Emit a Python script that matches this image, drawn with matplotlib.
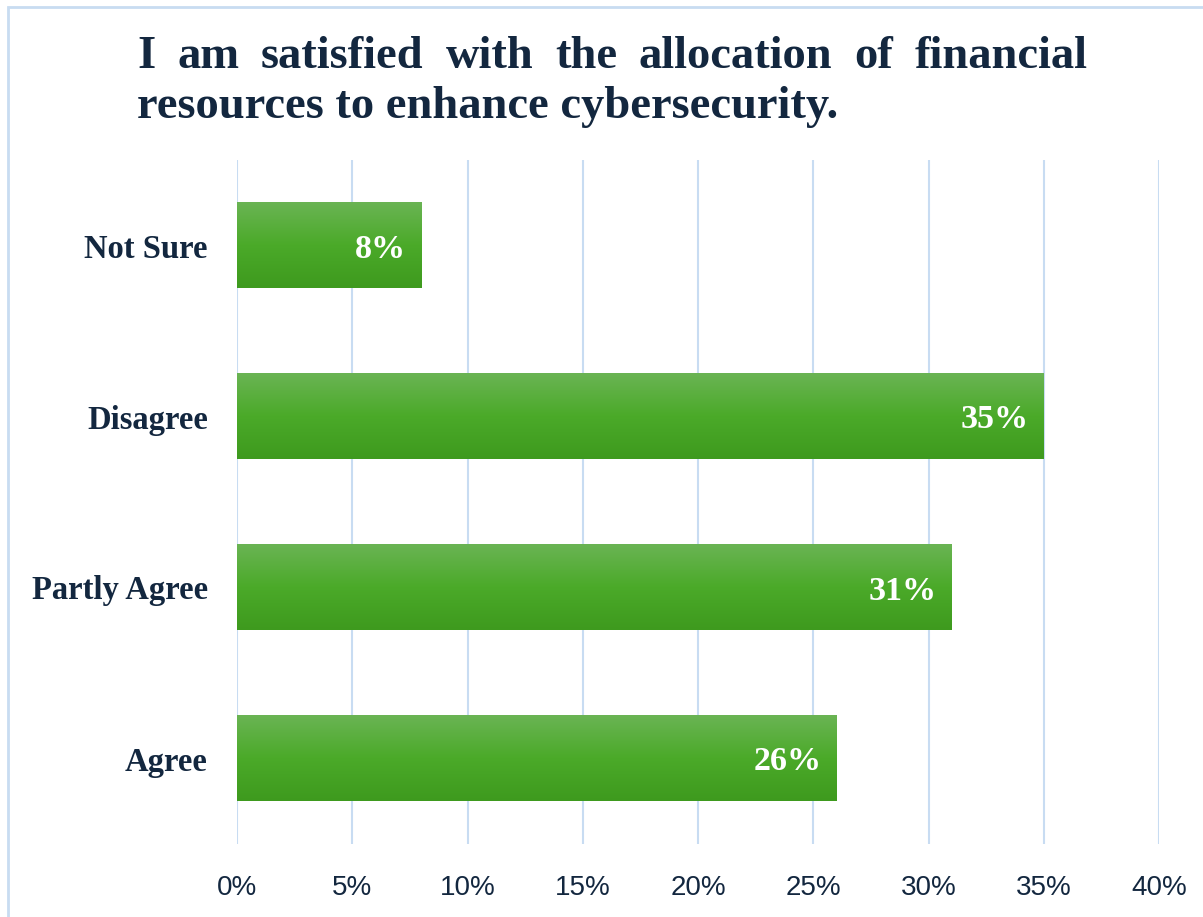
import matplotlib
matplotlib.use("Agg")
import matplotlib.pyplot as plt
import numpy as np
from matplotlib.colors import LinearSegmentedColormap
from matplotlib.patches import Rectangle

# survey answers, bottom to top
categories = ["Agree", "Partly Agree", "Disagree", "Not Sure"]
shares = [26, 31, 35, 8]
value_labels = ["26%", "31%", "35%", "8%"]
tick_values = [0, 5, 10, 15, 20, 25, 30, 35, 40]
tick_labels = ["0%", "5%", "10%", "15%", "20%", "25%", "30%", "35%", "40%"]
title_line1 = "I am satisfied with the allocation of financial"
title_line2 = "resources to enhance cybersecurity."

navy = "#13273F"
grid_blue = "#C8DCF2"
serif = "Liberation Serif"

W, H = 1203, 917
fig = plt.figure(figsize=(W / 100, H / 100), dpi=100)
fig.patch.set_facecolor("white")

# outer frame (only top and left edges fall inside the image)
fig.patches.append(Rectangle((8 / W, -0.05), 1.2, 1 - 7 / H + 0.05,
                             transform=fig.transFigure, fill=False,
                             edgecolor="#C8DCF1", linewidth=2))

ax = fig.add_axes([237 / W, 73 / H, 922 / W, 684 / H])
ax.set_xlim(0, 40)
ax.set_ylim(-0.5, 3.5)
for s in ax.spines.values():
    s.set_visible(False)
ax.set_xticks(tick_values)
ax.set_xticklabels(tick_labels, fontfamily="Liberation Sans", fontsize=20, color=navy)
ax.tick_params(axis="x", length=0, pad=22)
ax.set_yticks(range(len(categories)))
ax.set_yticklabels(categories, fontfamily=serif, fontweight="bold", fontsize=23.5, color=navy)
ax.tick_params(axis="y", length=0, pad=21)
ax.grid(axis="x", color=grid_blue, linewidth=1.5)
ax.set_axisbelow(True)

# green bars with a vertical gradient
green = LinearSegmentedColormap.from_list("g", ["#3E9A1E", "#4BAA29", "#6AB454"])
grad = np.linspace(0, 1, 256).reshape(-1, 1)
bars = ax.barh(range(len(categories)), shares, height=0.5, color="#4BAA29", zorder=2)
for bar, lab in zip(bars, value_labels):
    x0, y0 = bar.get_x(), bar.get_y()
    w, h = bar.get_width(), bar.get_height()
    ax.imshow(grad, cmap=green, aspect="auto", origin="lower",
              extent=[x0, x0 + w, y0, y0 + h], zorder=3)
    ax.text(x0 + w - 0.65, y0 + h / 2, lab, ha="right", va="center_baseline",
            fontfamily=serif, fontweight="bold", fontsize=24.5, color="white", zorder=4)
ax.set_xlim(0, 40)
ax.set_ylim(-0.5, 3.5)

# title: first line justified between the two edges, second left aligned
fig.canvas.draw()
r = fig.canvas.get_renderer()
left, right = 137, 1088
words = title_line1.split()
tfont = dict(fontfamily=serif, fontweight="bold", fontsize=33.5, color=navy)
widths = []
for wd in words:
    t = fig.text(0, 0, wd, **tfont)
    widths.append(t.get_window_extent(r).width)
    t.remove()
gap = (right - left - sum(widths)) / (len(words) - 1)
x = left
for wd, wpx in zip(words, widths):
    fig.text(x / W, 1 - 68 / H, wd, ha="left", va="baseline", **tfont)
    x += wpx + gap
fig.text(left / W, 1 - 118 / H, title_line2, ha="left", va="baseline", **tfont)

fig.savefig("out.png", dpi=100)
